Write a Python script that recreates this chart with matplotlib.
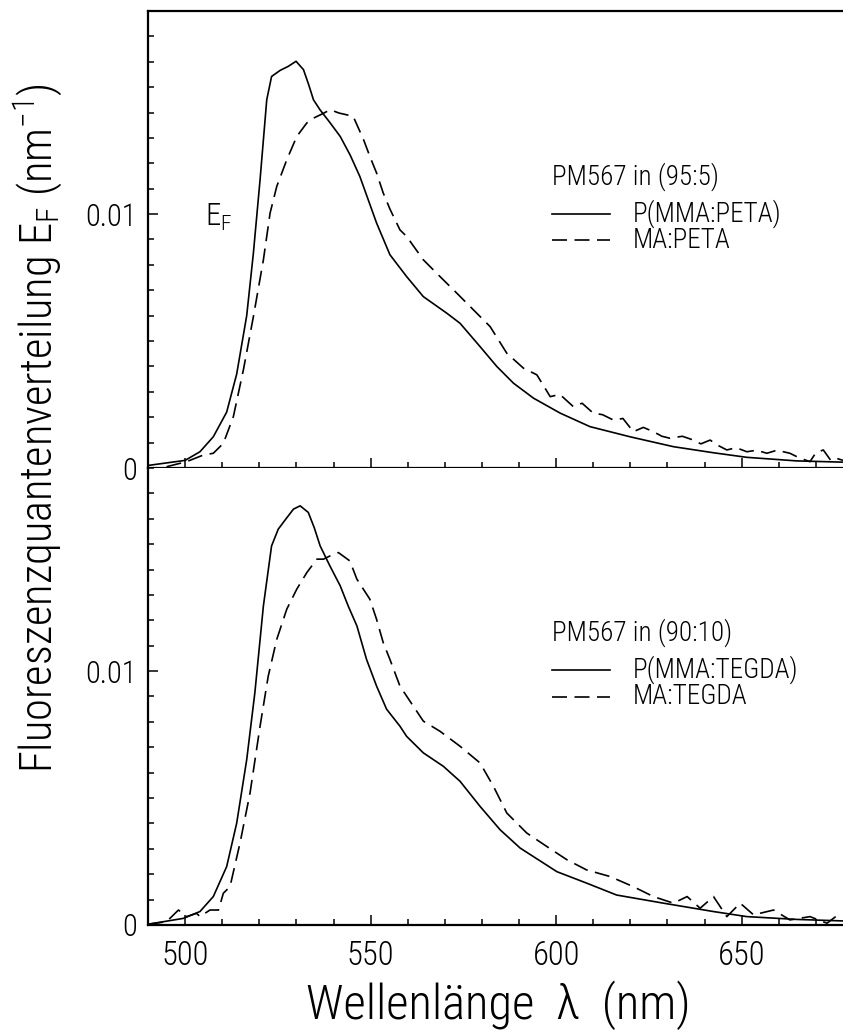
import matplotlib
matplotlib.use("Agg")
import matplotlib.pyplot as plt
from matplotlib.ticker import MultipleLocator, FixedLocator, FuncFormatter

plt.rcParams['font.family'] = ['Roboto Condensed', 'Roboto', 'DejaVu Sans']
plt.rcParams['font.weight'] = 'light'
plt.rcParams['mathtext.default'] = 'regular'

# ---- data (wavelength nm, E_F in nm^-1) ----
top_solid_x = [490, 500, 504, 507.6, 511.2, 513.9, 516.6, 518.4, 520.2, 522, 523.3, 525.6,
               527.8, 529.9, 531.9, 533.3, 534.6, 536.4, 538.8, 541.8, 544.5, 547.1, 551.6,
               555.2, 559.7, 564.2, 570.5, 574.1, 579.5, 584, 588.5, 593.9, 601.1, 609.1,
               619.9, 631.6, 642.4, 651.4, 664.8, 677.3]
top_solid_y = [0.0001, 0.0003, 0.00064, 0.00123, 0.0022, 0.0037, 0.0060, 0.00846, 0.01135,
               0.0145, 0.01542, 0.01566, 0.01582, 0.01602, 0.01569, 0.0151, 0.0145, 0.0141,
               0.01365, 0.01306, 0.01232, 0.01148, 0.00965, 0.0084, 0.00754, 0.00675, 0.0061,
               0.0057, 0.00478, 0.004, 0.00334, 0.00275, 0.00216, 0.00163, 0.00123, 0.00084,
               0.0006, 0.00042, 0.00028, 0.00023]

top_dash_x = [495, 500.4, 504.9, 507.6, 510.3, 513, 515.7, 518.4, 521.1, 522.9, 524.7, 527.4,
              530.1, 532.8, 534.6, 537, 539.1, 541.5, 543.6, 545.3, 548.1, 549.8, 551.6,
              553.4, 555.2, 557.9, 559.7, 564.2, 568.7, 573.2, 577.7, 582.2, 586.7, 591.2,
              594.8, 598.4, 601, 604.6, 607, 610, 612.5, 615.4, 618, 620.8, 623.5, 626.2,
              628.5, 630.7, 634, 637, 639, 641.5, 643.5, 646, 648.5, 651.4, 654, 656.8,
              659.5, 663, 665.5, 668.4, 670, 672, 674, 675.6, 677.3]
top_dash_y = [0.00005, 0.00025, 0.00051, 0.00058, 0.00097, 0.00202, 0.00386, 0.00596, 0.0082,
              0.01004, 0.01109, 0.01214, 0.01306, 0.01359, 0.01378, 0.01395, 0.01411, 0.01398,
              0.01391, 0.01385, 0.01293, 0.01227, 0.01162, 0.01083, 0.0102, 0.00938, 0.00912,
              0.0082, 0.00754, 0.00689, 0.00623, 0.00557, 0.00452, 0.00393, 0.00367, 0.00281,
              0.0029, 0.00242, 0.00255, 0.00216, 0.0021, 0.00189, 0.00195, 0.00143, 0.0016,
              0.00143, 0.00125, 0.00117, 0.00125, 0.0011, 0.00095, 0.0011, 0.0009, 0.00071,
              0.0008, 0.00064, 0.0007, 0.00058, 0.0007, 0.00058, 0.0004, 0.00025, 0.0006,
              0.00071, 0.0003, 0.00038, 0.0003]

bot_solid_x = [490, 499.5, 504, 507.6, 511.2, 513.9, 516.6, 518.8, 521.1, 523.3, 525.1, 527.2,
               529.2, 531, 533.2, 534.8, 536.4, 539, 541.8, 544, 546.3, 548.9, 551.6, 554.3,
               557.9, 559.7, 564.2, 569.6, 574.1, 579.5, 584.9, 590.3, 600.2, 608.2, 616.3,
               628.9, 642.4, 651.4, 664.8, 677.3]
bot_solid_y = [0.00003, 0.00026, 0.00053, 0.00112, 0.0023, 0.00401, 0.00651, 0.00915, 0.01257,
               0.01493, 0.01559, 0.01600, 0.01638, 0.01651, 0.01625, 0.01565, 0.01493, 0.01415,
               0.01336, 0.01255, 0.01178, 0.01046, 0.00941, 0.0085, 0.00783, 0.00743, 0.00678,
               0.00625, 0.00566, 0.00467, 0.00375, 0.00303, 0.0021, 0.00165, 0.00118, 0.00086,
               0.00053, 0.00033, 0.00022, 0.00016]

bot_dash_x = [490, 495, 498.2, 500.4, 503.1, 504, 506.7, 509, 510.3, 512.1, 514.8, 517.5,
              520.2, 522.4, 524.7, 527.4, 530.1, 532.8, 535.5, 537.3, 539.1, 541.3, 544.4,
              546.3, 549.8, 551.6, 553.4, 555.2, 557.9, 561.5, 564.2, 568.7, 574.1, 579.5,
              583.1, 586.7, 592.1, 597.5, 602.9, 608.2, 614.5, 620.8, 626.2, 631.6, 635.3,
              638.8, 642.4, 646, 649.6, 653.2, 658.6, 663, 668.4, 673, 676.5]
bot_dash_y = [0.00003, 0.00013, 0.00059, 0.00033, 0.00046, 0.00033, 0.00059, 0.00059, 0.00125,
              0.00151, 0.00323, 0.0052, 0.00783, 0.0098, 0.01125, 0.01244, 0.01323, 0.01388,
              0.01441, 0.01441, 0.01454, 0.01467, 0.01434, 0.01362, 0.01283, 0.01204, 0.01112,
              0.01046, 0.00941, 0.00862, 0.00803, 0.00763, 0.00704, 0.00638, 0.00546, 0.00441,
              0.00362, 0.00309, 0.00257, 0.00217, 0.00191, 0.00151, 0.00112, 0.00086, 0.00112,
              0.00066, 0.00112, 0.00033, 0.00086, 0.0004, 0.00059, 0.0002, 0.00033, 0.00007,
              0.00046]

x_major = [500, 550, 600, 650]
y_major = [0, 0.01]
xlim = (490, 680)
ylim = (0, 0.018)

legend_top = ("PM567 in (95:5)", "P(MMA:PETA)", "MA:PETA")
legend_bot = ("PM567 in (90:10)", "P(MMA:TEGDA)", "MA:TEGDA")

W, H = 843, 1036
fig = plt.figure(figsize=(W / 100, H / 100), dpi=100)

def fx(px):
    return px / W

def fy(py):
    return 1 - py / H

ax_left = fx(148)
ax_w = (853 - 148) / W
ax_top = fig.add_axes([ax_left, fy(468), ax_w, (468 - 11) / H])
ax_bot = fig.add_axes([ax_left, fy(925), ax_w, (925 - 468) / H])

LW = 1.2
DASH = (9, 4.5)

def yfmt(v, pos):
    if abs(v) < 1e-12:
        return "0"
    return "%.2f" % v

for ax, sx, sy, dx, dy, leg, ly in [
    (ax_top, top_solid_x, top_solid_y, top_dash_x, top_dash_y, legend_top, (177, 214, 240)),
    (ax_bot, bot_solid_x, bot_solid_y, bot_dash_x, bot_dash_y, legend_bot, (633, 670, 697)),
]:
    ax.plot(sx, sy, color='black', lw=LW, solid_joinstyle='round')
    ax.plot(dx, dy, color='black', lw=LW, dashes=DASH)
    ax.set_xlim(*xlim)
    ax.set_ylim(*ylim)
    for s in ax.spines.values():
        s.set_linewidth(1.6)
    ax.xaxis.set_major_locator(FixedLocator(x_major))
    ax.xaxis.set_minor_locator(MultipleLocator(10))
    ax.yaxis.set_major_locator(FixedLocator(y_major))
    ax.yaxis.set_minor_locator(MultipleLocator(0.001))
    ax.yaxis.set_major_formatter(FuncFormatter(yfmt))
    ax.tick_params(which='both', direction='in', top=False, right=False, width=1.1)
    ax.tick_params(which='major', length=7.5)
    ax.tick_params(which='minor', length=4.5)
    ax.tick_params(axis='y', labelsize=22, pad=8)
    ax.tick_params(axis='x', labelsize=23.5, pad=11)
    tr = fig.transFigure
    fig.text(fx(552), fy(ly[0]), leg[0], fontsize=19.5, va='center', ha='left')
    fig.lines.append(plt.Line2D([fx(552), fx(610)], [fy(ly[1]), fy(ly[1])],
                                transform=tr, color='black', lw=LW))
    fig.lines.append(plt.Line2D([fx(552), fx(610)], [fy(ly[2]), fy(ly[2])],
                                transform=tr, color='black', lw=LW, dashes=DASH))
    fig.text(fx(633), fy(ly[1]), leg[1], fontsize=19.5, va='center', ha='left')
    fig.text(fx(633), fy(ly[2]), leg[2], fontsize=19.5, va='center', ha='left')

ax_top.tick_params(axis='x', labelbottom=False)
ax_bot.spines['top'].set_visible(False)

fig.text(fx(205), fy(217), "E$_F$", fontsize=22, va='center', ha='left')

fig.text(fx(498), fy(1005), "Wellenlänge  λ  (nm)", fontsize=35, ha='center', va='center')
fig.text(fx(38), fy(428), "Fluoreszenzquantenverteilung E$_F$ (nm$^{-1}$)", fontsize=32,
         rotation=90, ha='center', va='center')

fig.savefig("out.png", dpi=100)
